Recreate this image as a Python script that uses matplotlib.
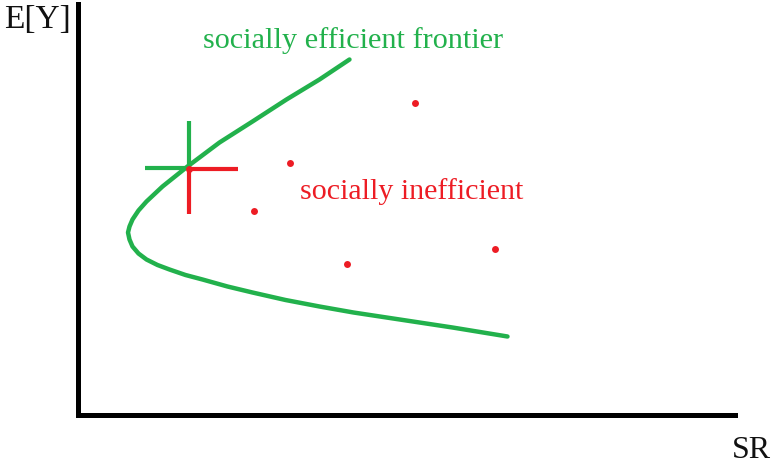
import matplotlib
matplotlib.use("Agg")
import matplotlib.pyplot as plt

# Frontier curve (SR, E[Y]), from upper end to lower end
frontier_sr = [272, 242, 209, 175, 142, 110, 85, 69, 61, 55, 52, 50.5, 52, 55, 61, 69, 80, 92, 108, 125, 150, 175, 208, 242, 276, 309, 342, 375, 430]
frontier_ey = [355, 335, 315, 293, 272, 248, 228, 213, 204, 195, 188, 182, 175, 168, 161, 155, 149.5, 145, 139.5, 135, 128, 122, 114.5, 108, 102, 97, 92, 87, 78]

# Socially inefficient portfolios
ineff_sr = [212, 177, 270, 418, 338]
ineff_ey = [252, 204, 151, 166, 312]

# Highlighted efficient point
point_sr = 111
point_ey = 247

GREEN = "#22B14C"
RED = "#ED1C24"

W, H = 774, 466
fig = plt.figure(figsize=(W / 100, H / 100), dpi=100)
ax = fig.add_axes([77.5 / W, 51.5 / H, 657.5 / W, 410.5 / H])
ax.set_xlim(0, 657.5)
ax.set_ylim(0, 410.5)
for s in ["top", "right"]:
    ax.spines[s].set_visible(False)
for s in ["left", "bottom"]:
    ax.spines[s].set_linewidth(3.6)
    ax.spines[s].set_color("black")
    ax.spines[s].set_capstyle("projecting")
ax.set_xticks([])
ax.set_yticks([])

ax.plot(frontier_sr, frontier_ey, color=GREEN, lw=3.2, solid_capstyle="round",
        solid_joinstyle="round")

# cross marker at efficient point
ax.plot([point_sr, point_sr], [point_ey, point_ey + 47], color=GREEN, lw=3.0, solid_capstyle="butt")
ax.plot([point_sr - 44, point_sr], [point_ey, point_ey], color=GREEN, lw=3.0, solid_capstyle="butt")
ax.plot([point_sr, point_sr + 50], [point_ey - 1, point_ey - 1], color=RED, lw=3.0, solid_capstyle="butt")
ax.plot([point_sr, point_sr], [point_ey - 1, point_ey - 46], color=RED, lw=3.0, solid_capstyle="butt")
ax.plot([point_sr], [point_ey - 1], "o", color=RED, ms=5, mec="none")

ax.plot(ineff_sr, ineff_ey, "o", color=RED, ms=5, mec="none", clip_on=False)

serif = ["Liberation Serif", "DejaVu Serif"]
fig.text(353 / W, 1 - 41 / H, "socially efficient frontier", color=GREEN, fontsize=21.8,
         family=serif, ha="center", va="center")
fig.text(412 / W, 1 - 192 / H, "socially inefficient", color=RED, fontsize=21.6,
         family=serif, ha="center", va="center")
fig.text(37 / W, 1 - 20 / H, "E[Y]", color="#111111", fontsize=24,
         family=serif, ha="center", va="center")
fig.text(751 / W, 1 - 450 / H, "SR", color="#111111", fontsize=23,
         family=serif, ha="center", va="center")

fig.savefig("out.png", dpi=100)
